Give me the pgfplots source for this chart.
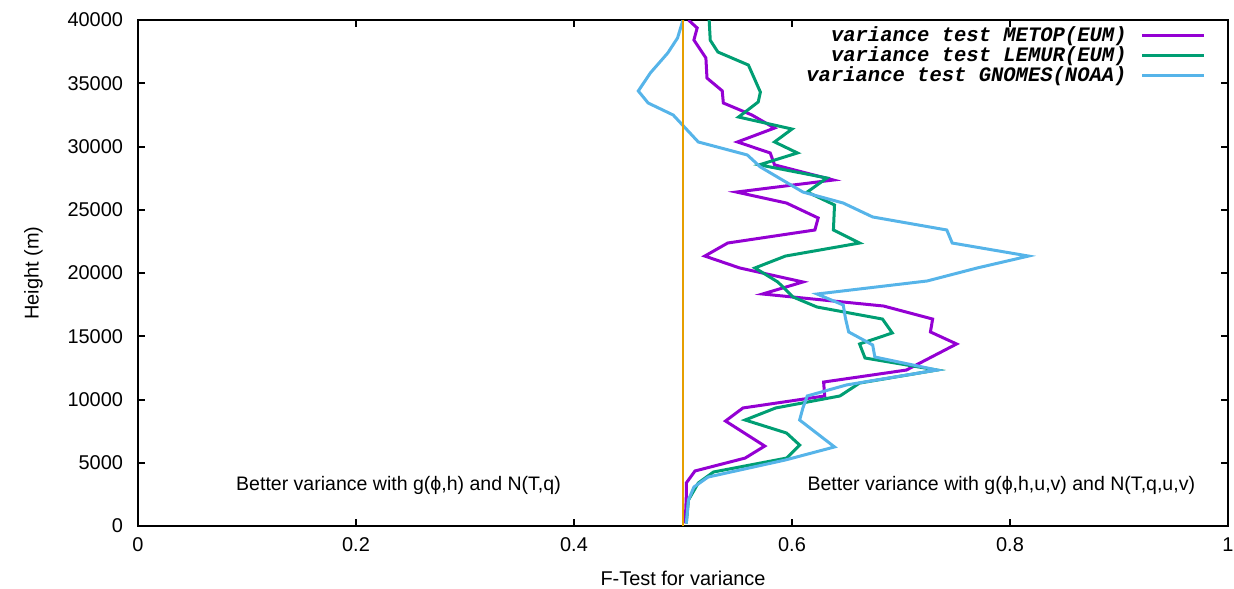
\documentclass[border=0pt]{standalone}
\usepackage{fontspec}
\setmainfont{Liberation Sans}
\newfontfamily\legfont{Liberation Mono}
\usepackage{pgfplots}
\usepackage{pgfplotstable}
\pgfplotsset{compat=1.18}
\definecolor{cpurple}{HTML}{9400D3}
\definecolor{cgreen}{HTML}{009E73}
\definecolor{cblue}{HTML}{56B4E9}
\definecolor{corange}{HTML}{E69F00}

\pgfplotstableread{
x y
0.505 40000
0.513 39370
0.510 38420
0.521 37000
0.522 35410
0.536 34400
0.537 33440
0.563 32500
0.584 31460
0.550 30360
0.580 29490
0.584 28550
0.638 27350
0.549 26400
0.595 25530
0.624 24350
0.621 23400
0.541 22370
0.520 21340
0.552 20400
0.610 19290
0.573 18340
0.684 17390
0.729 16360
0.727 15340
0.751 14390
0.705 12330
0.629 11380
0.630 10280
0.555 9330
0.539 8300
0.575 6320
0.557 5370
0.511 4350
0.503 3400
0.503 2300
0.502 200
}\metop

\pgfplotstableread{
x y
0.524 40000
0.525 38400
0.532 37470
0.560 36440
0.571 34300
0.569 33520
0.551 32330
0.600 31380
0.584 30360
0.605 29490
0.570 28550
0.632 27510
0.614 26400
0.639 25380
0.638 23400
0.662 22370
0.594 21340
0.566 20400
0.587 19290
0.601 18100
0.623 17310
0.683 16360
0.692 15260
0.662 14390
0.667 13280
0.733 12330
0.662 11300
0.644 10280
0.585 9330
0.557 8380
0.595 7350
0.607 6400
0.595 5370
0.528 4270
0.514 3400
0.505 2050
0.503 200
}\lemur

\pgfplotstableread{
x y
0.500 40000
0.495 38580
0.486 37390
0.470 35810
0.459 34390
0.468 33440
0.491 32490
0.514 30360
0.559 29330
0.571 28380
0.610 26400
0.647 25530
0.674 24430
0.742 23400
0.747 22370
0.817 21340
0.770 20400
0.724 19370
0.623 18340
0.647 17470
0.649 16440
0.652 15340
0.674 14310
0.676 13360
0.733 12330
0.650 11150
0.614 10280
0.610 9330
0.607 8380
0.639 6250
0.594 5220
0.523 3870
0.510 3080
0.505 2050
0.503 200
}\gnomes

\begin{document}
\begin{tikzpicture}
\useasboundingbox (-69bp,-31.5bp) rectangle (548bp,263bp);
\begin{axis}[
  scale only axis,
  width=545bp, height=253bp,
  xmin=0, xmax=1, ymin=0, ymax=40000,
  xtick={0,0.2,0.4,0.6,0.8,1},
  ytick={0,5000,10000,15000,20000,25000,30000,35000,40000},
  scaled y ticks=false,
  /pgf/number format/set thousands separator={},
  /pgf/number format/assume math mode=true,
  tick align=inside,
  major tick length=3.5bp,
  tick style={line width=1bp, black},
  axis line style={line width=1bp},
  font=\fontsize{10}{12}\selectfont,
  yticklabel style={xshift=-4bp},
  xticklabel style={yshift=-2.5bp},
  xlabel={F-Test for variance},
  ylabel={Height (m)},
  every axis x label/.style={at={(axis description cs:0.5,-0.103)}, anchor=center},
  every axis y label/.style={at={(axis description cs:-0.096,0.5)}, anchor=center, rotate=90},
  legend cell align=right,
  legend plot pos=right,
  legend style={draw=none, fill=none, at={(rel axis cs:1,1)}, anchor=north east,
    xshift=-11bp, yshift=-1bp, inner sep=0pt, row sep=-2.9bp, column sep=5bp,
    font=\legfont\bfseries\itshape\fontsize{10.3}{10}\selectfont},
  legend image code/.code={\draw[#1] (0bp,0bp) -- (31bp,0bp);},
]
\addplot[cpurple, line width=1.5bp] table[x=x,y=y] {\metop};
\addlegendentry{variance test METOP(EUM)}
\addplot[cgreen, line width=1.5bp] table[x=x,y=y] {\lemur};
\addlegendentry{variance test LEMUR(EUM)}
\addplot[cblue, line width=1.5bp] table[x=x,y=y] {\gnomes};
\addlegendentry{variance test GNOMES(NOAA)}
\addplot[corange, line width=1.2bp, forget plot] coordinates {(0.5,0) (0.5,40000)};
\node[font=\fontsize{9.8}{12}\selectfont] at (axis cs:0.239,3240) {Better variance with g(ϕ,h) and N(T,q)};
\node[font=\fontsize{9.8}{12}\selectfont] at (axis cs:0.792,3240) {Better variance with g(ϕ,h,u,v) and N(T,q,u,v)};
\end{axis}
\end{tikzpicture}
\end{document}
